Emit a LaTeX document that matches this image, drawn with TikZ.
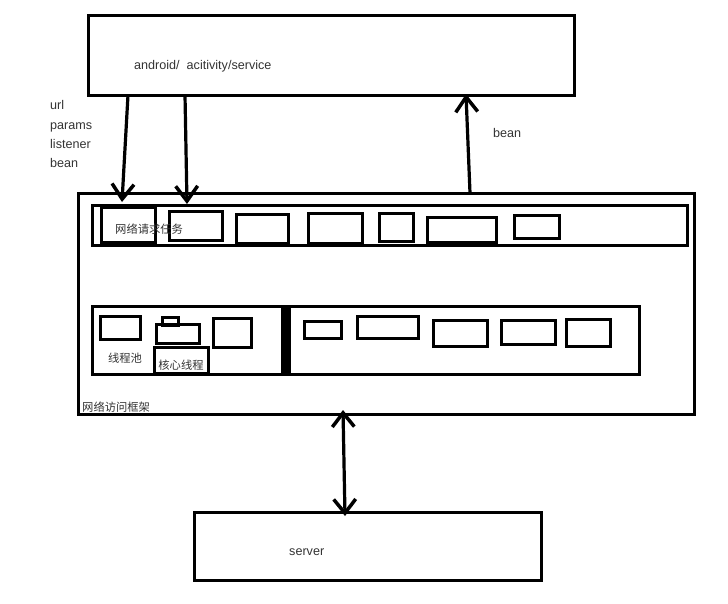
\documentclass[tikz,border=0pt]{standalone}
\usepackage{fontspec}
\setmainfont{Liberation Sans}
\newfontfamily\cjk{Noto Sans CJK SC}
\usetikzlibrary{arrows.meta}
\newcommand\bx[6][]{\node[box,#1,anchor=north west,minimum width={(#5-#3)*1pt},minimum height={(#6-#4)*1pt}] (#2) at (#3,#4) {};}
\begin{document}
\begin{tikzpicture}[x=1pt,y=-1pt,
  box/.style={draw=black,line width=3pt,rectangle,inner sep=0pt,outer sep=0pt},
  lbl/.style={font=\fontsize{12.6}{14}\selectfont,text=black!80,inner sep=0pt,anchor=base west},
  clbl/.style={font=\cjk\fontsize{11.3}{13}\selectfont,text=black!80,inner sep=0pt},
  arr/.style={line width=3.2pt,-{Straight Barb[length=15pt,width=22pt,line width=3.5pt]}},
  darr/.style={line width=3.2pt,{Straight Barb[length=14pt,width=22pt,line width=3.5pt]}-{Straight Barb[length=14pt,width=22pt,line width=3.5pt]}}]
\useasboundingbox (0,0) rectangle (728,603);
% top box
\bx{app}{88}{15}{574}{95}
\node[lbl] (apptext) at (134,69) {android/\ \ acitivity/service};
% left labels
\node[lbl] (url) at (50,109) {url};
\node[lbl] (params) at (50,129) {params};
\node[lbl] (listener) at (50,148) {listener};
\node[lbl] (beanl) at (50,167) {bean};
% main frame
\bx{frame}{78}{193}{694}{414}
\node[clbl,anchor=west] (framelbl) at (82,407) {网络访问框架};
% task bar
\bx{taskbar}{92}{205}{687}{245}
\bx{t1}{101}{207}{155}{242}
\bx{t2}{169}{211}{222}{240}
\bx{t3}{236}{214}{288}{243}
\bx{t4}{308}{213}{362}{243}
\bx{t5}{379}{213}{413}{241}
\bx{t6}{427}{217}{496}{242}
\bx{t7}{514}{215}{559}{238}
\node[clbl,anchor=west] (tasklbl) at (115,229) {网络请求任务};
% thread pool panel
\bx{pool}{92}{306}{282}{374}
\bx{p1}{100}{316}{140}{339}
\bx{p2tab}{162}{317}{178}{325}
\bx{p2}{156}{324}{199}{343}
\bx{p3}{213}{318}{251}{347}
\bx{core}{154}{347}{208}{373}
\node[clbl] (poollbl) at (125,358) {线程池};
\node[clbl] (corelbl) at (181,365) {核心线程};
% queue panel
\bx{queue}{287}{306}{639}{374}
\fill (282,304.5) rectangle (291,375.5);
\bx{q1}{304}{321}{341}{338}
\bx{q2}{357}{316}{418}{338}
\bx{q3}{433}{320}{487}{346}
\bx{q4}{501}{320}{555}{344}
\bx{q5}{566}{319}{610}{346}
% server
\bx{server}{194}{512}{541}{580}
\node[lbl] (servertext) at (289,555) {server};
% arrows
\coordinate (a1s) at (128,95);
\coordinate (a1e) at (122,202);
\coordinate (a2s) at (185,95);
\coordinate (a2e) at (187,204);
\coordinate (a3s) at (470,193);
\coordinate (a3e) at (466,94);
\coordinate (a4s) at (343,410);
\coordinate (a4e) at (345,516);
\draw[arr] (a1s) -- (a1e);
\draw[arr] (a2s) -- (a2e);
\draw[arr] (a3s) -- (a3e);
\draw[darr] (a4s) -- (a4e);
\node[lbl] (beanr) at (493,137) {bean};
\end{tikzpicture}
\end{document}
